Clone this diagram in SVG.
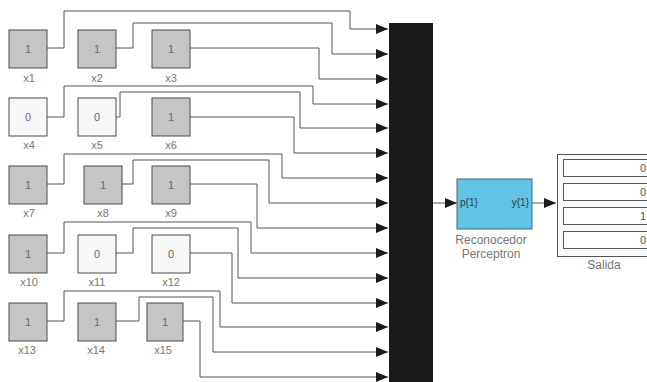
<svg xmlns="http://www.w3.org/2000/svg" width="647" height="382" viewBox="0 0 647 382">
<style>
.blk{fill:#c5c5c5;stroke:#4a4a4a;stroke-width:1}
.blkw{fill:#f7f7f7;stroke:#4a4a4a;stroke-width:1}
.val{font-family:"Liberation Sans",Arial,sans-serif;font-size:11px;fill:#6a6a6a;text-anchor:middle}
.lbl{font-family:"Liberation Sans",Arial,sans-serif;font-size:11px;fill:#777;text-anchor:middle}
.lbl2{font-family:"Liberation Sans",Arial,sans-serif;font-size:12px;fill:#777;text-anchor:middle}
.w{fill:none;stroke:#555;stroke-width:1}
</style>
<defs>
<marker id="ah" markerWidth="12" markerHeight="10" refX="12" refY="5" orient="auto" markerUnits="userSpaceOnUse"><path d="M0,0 L12,5 L0,10 z" fill="#1a1a1a"/></marker>
</defs>
<rect width="647" height="382" fill="#ffffff"/>
<g id="connectors">
<path class="w" marker-end="url(#ah)" d="M47,48 H64 V11 H350 V29 H388"/>
<path class="w" marker-end="url(#ah)" d="M116,48 H133 V23 H332 V54 H388"/>
<path class="w" marker-end="url(#ah)" d="M190,48 H319 V79 H388"/>
<path class="w" marker-end="url(#ah)" d="M47,117 H64 V86 H313 V104 H388"/>
<path class="w" marker-end="url(#ah)" d="M116,117 H120 V92 H300 V128 H388"/>
<path class="w" marker-end="url(#ah)" d="M190,117 H294 V153 H388"/>
<path class="w" marker-end="url(#ah)" d="M47,184 H64 V154 H282 V178 H388"/>
<path class="w" marker-end="url(#ah)" d="M122,184 H133 V160 H269 V203 H388"/>
<path class="w" marker-end="url(#ah)" d="M190,184 H257 V228 H388"/>
<path class="w" marker-end="url(#ah)" d="M47,253 H64 V222 H251 V253 H388"/>
<path class="w" marker-end="url(#ah)" d="M116,253 H133 V228 H238 V278 H388"/>
<path class="w" marker-end="url(#ah)" d="M190,253 H232 V303 H388"/>
<path class="w" marker-end="url(#ah)" d="M47,321 H64 V291 H220 V327 H388"/>
<path class="w" marker-end="url(#ah)" d="M116,321 H139 V297 H213 V352 H388"/>
<path class="w" marker-end="url(#ah)" d="M183,321 H200 V377 H388"/>
<path class="w" marker-end="url(#ah)" d="M433,203 H457"/>
<path class="w" marker-end="url(#ah)" d="M532,203 H556"/>
</g>
<g id="x1"><rect class="blk" x="9" y="30" width="38" height="38"/><text class="val" x="28" y="53">1</text><text class="lbl" x="29" y="82">x1</text></g>
<g id="x2"><rect class="blk" x="78" y="30" width="38" height="38"/><text class="val" x="97" y="53">1</text><text class="lbl" x="97" y="82">x2</text></g>
<g id="x3"><rect class="blk" x="152" y="30" width="38" height="38"/><text class="val" x="171" y="53">1</text><text class="lbl" x="171" y="82">x3</text></g>
<g id="x4"><rect class="blkw" x="9" y="98" width="38" height="38"/><text class="val" x="28" y="121">0</text><text class="lbl" x="29" y="149">x4</text></g>
<g id="x5"><rect class="blkw" x="78" y="98" width="38" height="38"/><text class="val" x="97" y="121">0</text><text class="lbl" x="97" y="149">x5</text></g>
<g id="x6"><rect class="blk" x="152" y="98" width="38" height="38"/><text class="val" x="171" y="121">1</text><text class="lbl" x="171" y="149">x6</text></g>
<g id="x7"><rect class="blk" x="9" y="166" width="38" height="38"/><text class="val" x="28" y="189">1</text><text class="lbl" x="29" y="217">x7</text></g>
<g id="x8"><rect class="blk" x="84" y="166" width="38" height="38"/><text class="val" x="103" y="189">1</text><text class="lbl" x="103" y="217">x8</text></g>
<g id="x9"><rect class="blk" x="152" y="166" width="38" height="38"/><text class="val" x="171" y="189">1</text><text class="lbl" x="171" y="217">x9</text></g>
<g id="x10"><rect class="blk" x="9" y="235" width="38" height="38"/><text class="val" x="28" y="258">1</text><text class="lbl" x="29" y="286">x10</text></g>
<g id="x11"><rect class="blkw" x="78" y="235" width="38" height="38"/><text class="val" x="97" y="258">0</text><text class="lbl" x="97" y="286">x11</text></g>
<g id="x12"><rect class="blkw" x="152" y="235" width="38" height="38"/><text class="val" x="171" y="258">0</text><text class="lbl" x="171" y="286">x12</text></g>
<g id="x13"><rect class="blk" x="9" y="303" width="38" height="38"/><text class="val" x="28" y="326">1</text><text class="lbl" x="27" y="354">x13</text></g>
<g id="x14"><rect class="blk" x="78" y="303" width="38" height="38"/><text class="val" x="97" y="326">1</text><text class="lbl" x="96" y="354">x14</text></g>
<g id="x15"><rect class="blk" x="147" y="303" width="36" height="38"/><text class="val" x="165" y="326">1</text><text class="lbl" x="163" y="354">x15</text></g>
<g id="mux"><rect x="389" y="23" width="44" height="362" fill="#1a1a1a"/></g>
<g id="perceptron"><rect x="457" y="179" width="75" height="50" fill="#62c3e3" stroke="#3a6f82" stroke-width="1"/>
<text x="460" y="206" font-family="Liberation Sans, Arial, sans-serif" font-size="10" fill="#2a3a44">p{1}</text>
<text x="529" y="206" font-family="Liberation Sans, Arial, sans-serif" font-size="10" fill="#2a3a44" text-anchor="end">y{1}</text>
<text class="lbl2" x="491" y="244">Reconocedor</text><text class="lbl2" x="491" y="258">Perceptron</text></g>
<g id="salida"><rect x="557.5" y="154.5" width="95" height="102" fill="#f9f9f9" stroke="#555"/>
<rect x="563.5" y="159.5" width="90" height="17" fill="#fff" stroke="#555"/>
<rect x="563.5" y="183.5" width="90" height="17" fill="#fff" stroke="#555"/>
<rect x="563.5" y="207.5" width="90" height="17" fill="#fff" stroke="#555"/>
<rect x="563.5" y="231.5" width="90" height="17" fill="#fff" stroke="#555"/>
<text x="640" y="172" font-family="Liberation Sans, Arial, sans-serif" font-size="11" fill="#555">0</text>
<text x="640" y="196" font-family="Liberation Sans, Arial, sans-serif" font-size="11" fill="#555">0</text>
<text x="640" y="220" font-family="Liberation Sans, Arial, sans-serif" font-size="11" fill="#555">1</text>
<text x="640" y="244" font-family="Liberation Sans, Arial, sans-serif" font-size="11" fill="#555">0</text>
<text class="lbl2" x="604" y="269">Salida</text></g>
</svg>
